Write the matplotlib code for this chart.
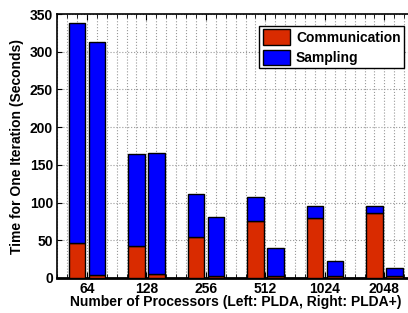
import matplotlib
matplotlib.use("Agg")
import matplotlib.pyplot as plt
from matplotlib.ticker import MultipleLocator
import numpy as np

# data
processors = ["64", "128", "256", "512", "1024", "2048"]
plda_comm = [47, 42, 54, 76, 80, 86]
plda_total = [338, 164, 112, 107, 96, 95]
pldap_comm = [4, 5, 3, 3, 3, 2]
pldap_total = [313, 166, 81, 40, 22, 13]

plda_samp = [t - c for t, c in zip(plda_total, plda_comm)]
pldap_samp = [t - c for t, c in zip(pldap_total, pldap_comm)]

red = "#d92b00"
blue = "#0000ff"

plt.rcParams['font.family'] = ['Liberation Sans', 'DejaVu Sans']
plt.rcParams['font.weight'] = 'bold'

fig = plt.figure(figsize=(4.08, 3.13), dpi=100)
ax = fig.add_axes([0.14, 0.112, 0.875, 0.843])

x = np.arange(1, len(processors) + 1)
w = 0.28
off = 0.168

# left bars: PLDA, right bars: PLDA+
ax.bar(x - off, plda_comm, w, color=red, edgecolor="black", linewidth=1, zorder=3, label="Communication")
ax.bar(x - off, plda_samp, w, bottom=plda_comm, color=blue, edgecolor="black", linewidth=1, zorder=3, label="Sampling")
ax.bar(x + off, pldap_comm, w, color=red, edgecolor="black", linewidth=1, zorder=3)
ax.bar(x + off, pldap_samp, w, bottom=pldap_comm, color=blue, edgecolor="black", linewidth=1, zorder=3)

ax.set_xlim(0.5, 6.5)
ax.set_ylim(0, 350)
ax.set_xticks(x)
ax.set_xticklabels(processors)
ax.xaxis.set_minor_locator(MultipleLocator(1 / 6))
ax.yaxis.set_major_locator(MultipleLocator(50))

# matlab-ish box and ticks
ax.tick_params(axis='both', which='both', direction='in', top=True, right=False, labelsize=10, pad=3)
ax.tick_params(axis='x', which='major', length=4, pad=3)
ax.tick_params(axis='x', which='minor', length=3)
ax.spines['right'].set_visible(False)
ax.spines['bottom'].set_linewidth(2)
ax.spines['top'].set_linewidth(1.2)
ax.spines['left'].set_linewidth(1.2)

ax.grid(axis='x', which='both', linestyle=':', color='#999999', linewidth=0.8, zorder=0)
ax.grid(axis='y', which='major', linestyle=':', color='#999999', linewidth=0.8, zorder=0)
ax.set_axisbelow(True)

ax.set_xlabel("Number of Processors (Left: PLDA, Right: PLDA+)", fontsize=10, fontweight='bold', labelpad=-1)
ax.set_ylabel("Time for One Iteration (Seconds)", fontsize=10, fontweight='bold', labelpad=4)

leg = ax.legend(loc='upper right', bbox_to_anchor=(0.972, 0.955), fontsize=10,
                fancybox=False, edgecolor='black', framealpha=1,
                handlelength=2.0, handleheight=1.3, handletextpad=0.4,
                borderpad=0.25, labelspacing=0.35, borderaxespad=0)
leg.get_frame().set_linewidth(1)
for t in leg.get_texts():
    t.set_fontweight('bold')

fig.savefig("out.png", dpi=100)
